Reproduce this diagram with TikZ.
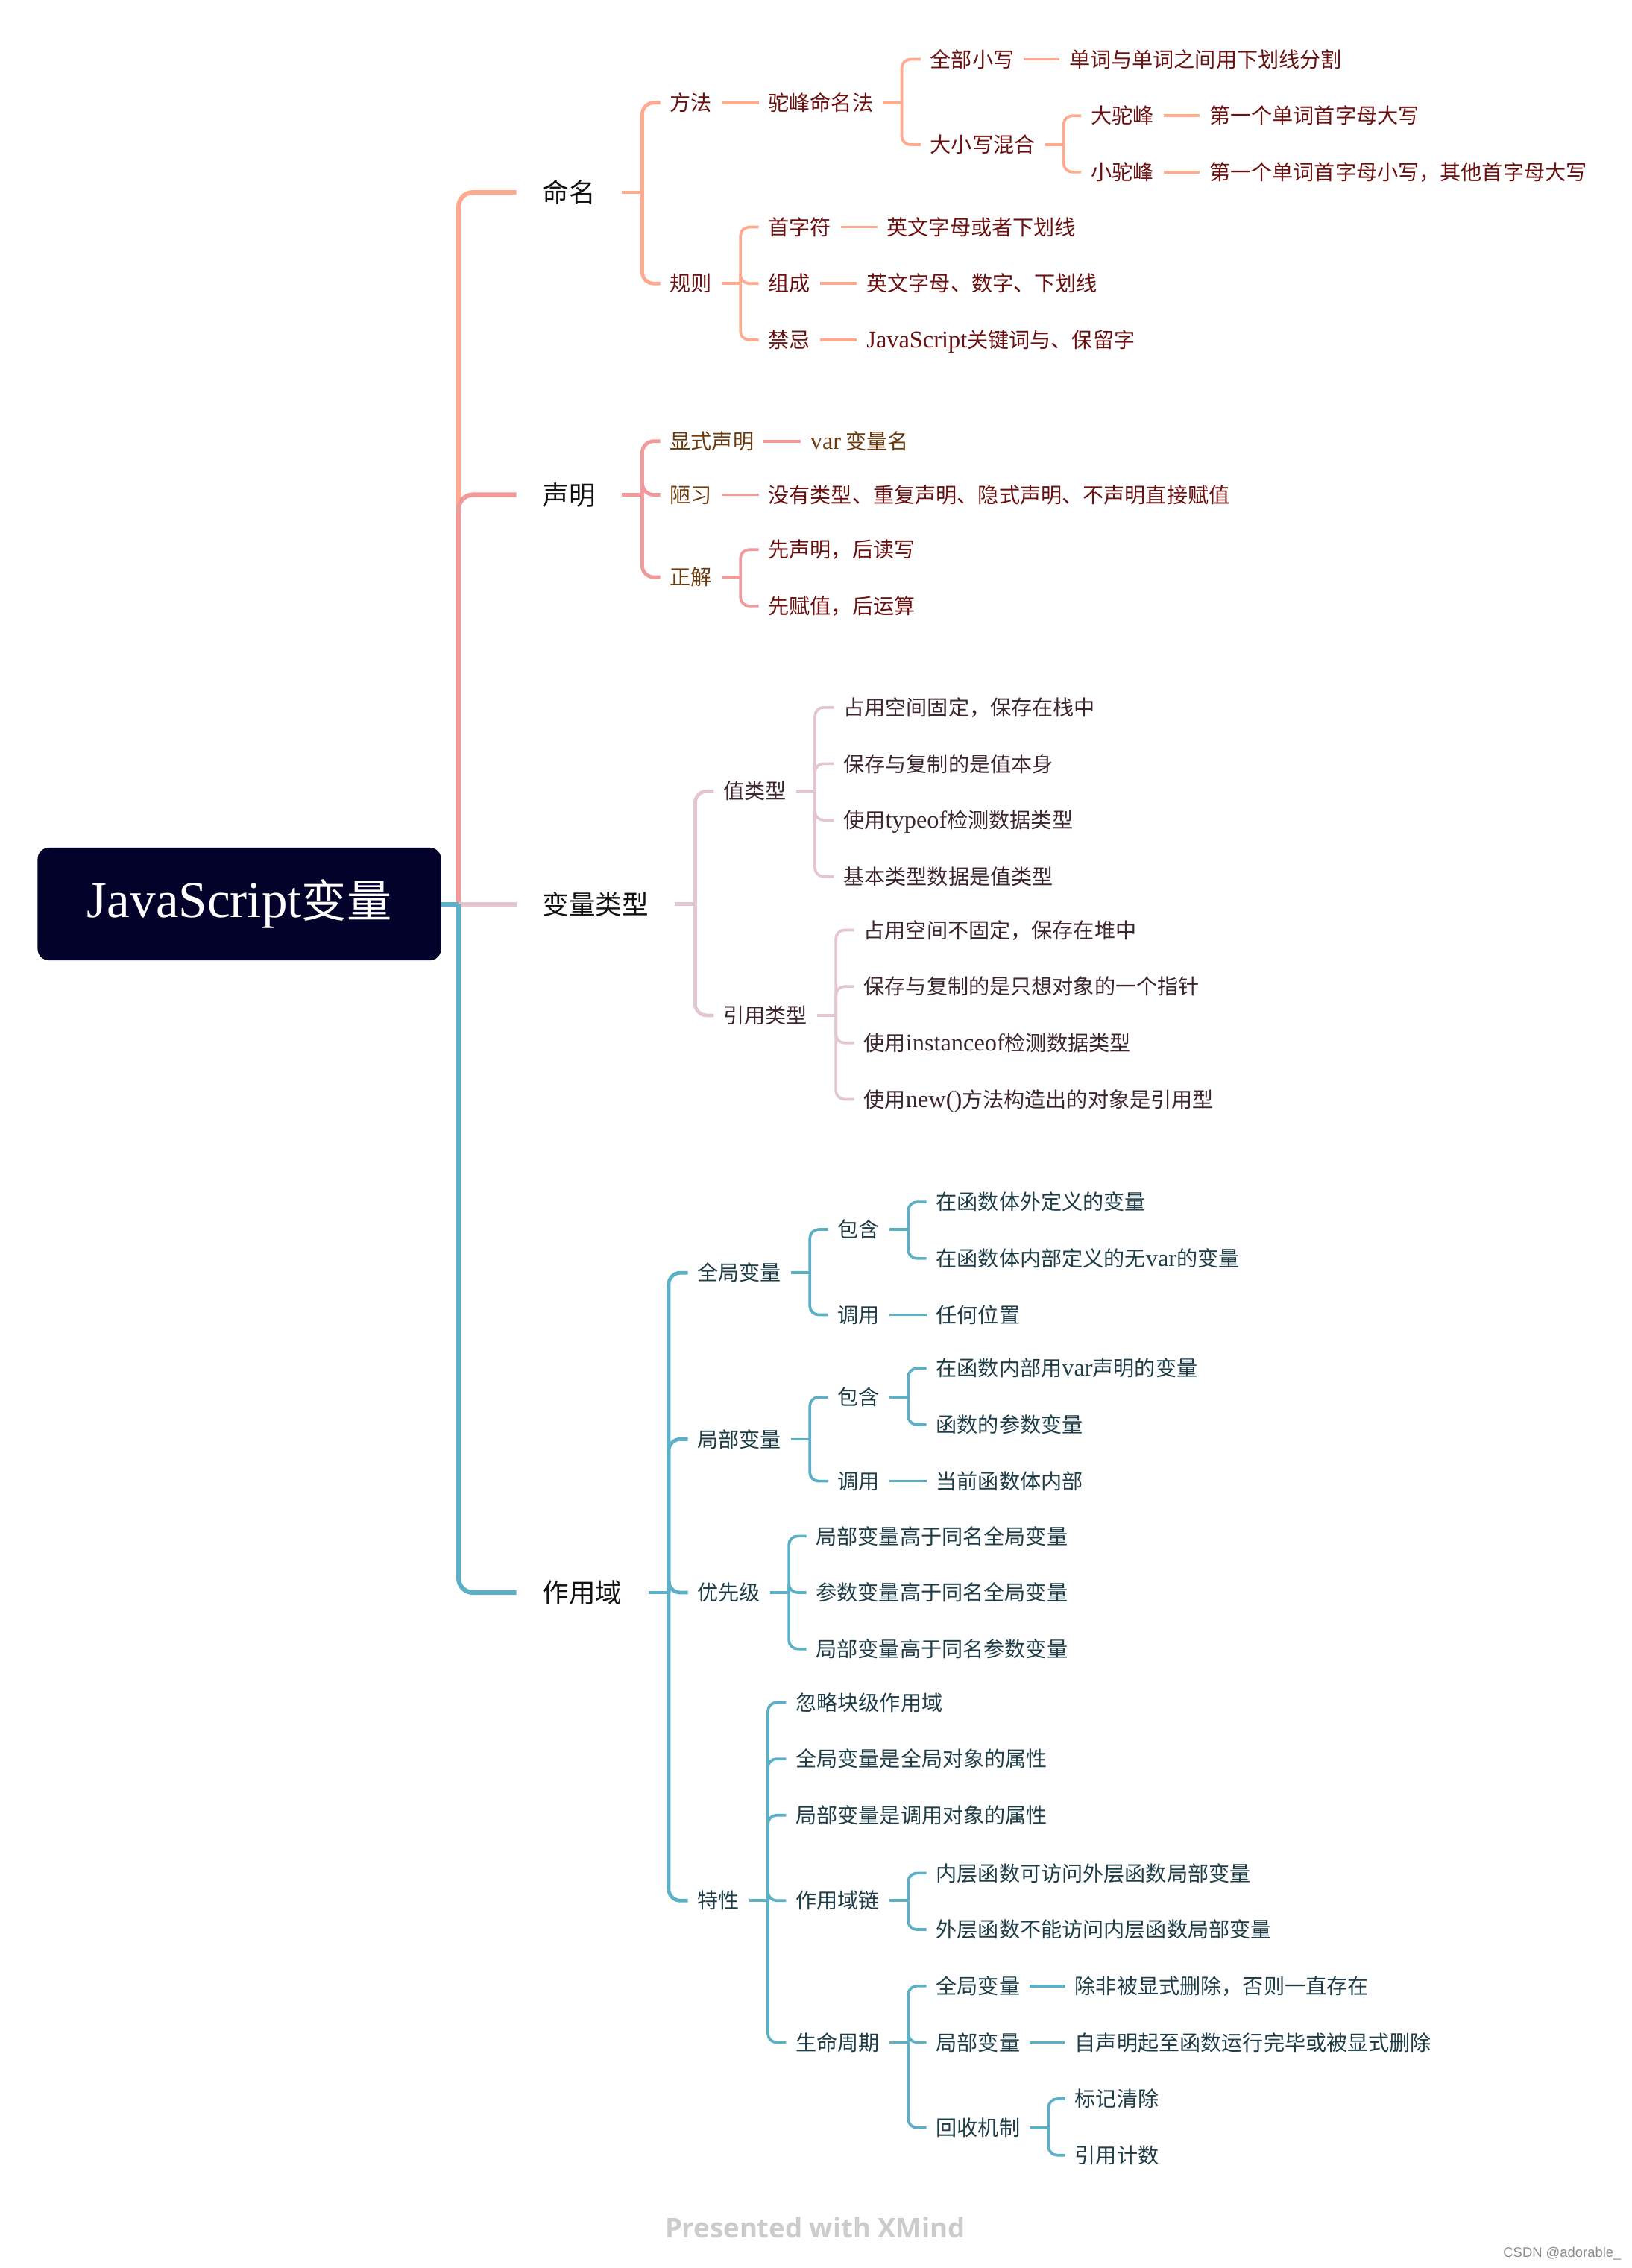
\documentclass[tikz,border=0pt]{standalone}
\usepackage{fontspec}
\setmainfont{Noto Sans CJK SC}
\newfontfamily\latf[Scale=1.15]{Liberation Serif}
\newfontfamily\footf{Open Sans}
\newfontfamily\csdnf{Liberation Sans}
\usepackage{tikz}
\definecolor{rootnavy}{HTML}{02022B}
\definecolor{peach}{HTML}{FFAA8C}
\definecolor{salmon}{HTML}{F29A9A}
\definecolor{mauve}{HTML}{E3C6CF}
\definecolor{scopeblue}{HTML}{5BAFC6}
\definecolor{namered}{HTML}{6A1010}
\definecolor{declbrown}{HTML}{6B3A0E}
\definecolor{typegray}{HTML}{3D2530}
\definecolor{scopeink}{HTML}{1E3D47}
\tikzset{
    topic/.style={anchor=west, inner xsep=18, inner ysep=0,
        text height=15.5, text depth=1.5, text=black!93,
        font=\fontsize{18.3}{22}\selectfont},
    sub/.style={anchor=west, inner xsep=6.5, inner ysep=0,
        text height=12.5, text depth=1.5,
        font=\fontsize{14.5}{17}\selectfont},
    spine/.style={line width=3.1, rounded corners=10},
    brk/.style={line width=2.5, rounded corners=8},
    link/.style={line width=1.9, rounded corners=6}
}
\begin{document}
\begin{tikzpicture}[x=1pt, y=-1pt]

    \useasboundingbox (0, 0) rectangle (1128, 1568);

    % root
    \node[fill=rootnavy, rounded corners=8, text=white, inner sep=0,
        minimum width=279, minimum height=78,
        font=\fontsize{31}{36}\selectfont]
        (root) at (165.5, 625) {{\latf JavaScript}变量};
    \coordinate (hub) at (317, 625);

    \node[topic] (mingming) at (357, 133) {命名};
    \node[topic] (shengming) at (357, 342) {声明};
    \node[topic] (leixing) at (357, 625) {变量类型};
    \node[topic] (zuoyongyu) at (357, 1101) {作用域};

    % naming
    \node[sub, text=namered] (fangfa) at (456.5, 71) {方法};
    \node[sub, text=namered] (tuofeng) at (524.5, 71) {驼峰命名法};
    \node[sub, text=namered] (quanxiao) at (636.5, 41) {全部小写};
    \node[sub, text=namered] (quanxiao-d) at (732.5, 41) {单词与单词之间用下划线分割};
    \node[sub, text=namered] (hunhe) at (636.5, 100) {大小写混合};
    \node[sub, text=namered] (datuo) at (747.5, 80) {大驼峰};
    \node[sub, text=namered] (datuo-d) at (829.5, 80) {第一个单词首字母大写};
    \node[sub, text=namered] (xiaotuo) at (747.5, 119) {小驼峰};
    \node[sub, text=namered] (xiaotuo-d) at (829.5, 119) {第一个单词首字母小写，其他首字母大写};
    \node[sub, text=namered] (guize) at (456.5, 196) {规则};
    \node[sub, text=namered] (shouzi) at (524.5, 157) {首字符};
    \node[sub, text=namered] (shouzi-d) at (606.5, 157) {英文字母或者下划线};
    \node[sub, text=namered] (zucheng) at (524.5, 196) {组成};
    \node[sub, text=namered] (zucheng-d) at (592.5, 196) {英文字母、数字、下划线};
    \node[sub, text=namered] (jinji) at (524.5, 235) {禁忌};
    \node[sub, text=namered] (jinji-d) at (592.5, 235) {{\latf JavaScript}关键词与、保留字};

    % declaring
    \node[sub, text=declbrown] (xianshi) at (456.5, 305) {显式声明};
    \node[sub, text=declbrown] (xianshi-d) at (553.5, 305) {{\latf var} 变量名};
    \node[sub, text=declbrown] (louxi) at (456.5, 342) {陋习};
    \node[sub, text=namered] (louxi-d) at (524.5, 342) {没有类型、重复声明、隐式声明、不声明直接赋值};
    \node[sub, text=declbrown] (zhengjie) at (456.5, 399) {正解};
    \node[sub, text=namered] (xiandu) at (524.5, 380) {先声明，后读写};
    \node[sub, text=namered] (xianfu) at (524.5, 419) {先赋值，后运算};

    % types
    \node[sub, text=typegray] (zhi) at (493.5, 547) {值类型};
    \node[sub, text=typegray] (zhi1) at (576.5, 489) {占用空间固定，保存在栈中};
    \node[sub, text=typegray] (zhi2) at (576.5, 528) {保存与复制的是值本身};
    \node[sub, text=typegray] (zhi3) at (576.5, 567) {使用{\latf typeof}检测数据类型};
    \node[sub, text=typegray] (zhi4) at (576.5, 606) {基本类型数据是值类型};
    \node[sub, text=typegray] (yinyong) at (493.5, 702) {引用类型};
    \node[sub, text=typegray] (yy1) at (590.5, 643) {占用空间不固定，保存在堆中};
    \node[sub, text=typegray] (yy2) at (590.5, 682) {保存与复制的是只想对象的一个指针};
    \node[sub, text=typegray] (yy3) at (590.5, 721) {使用{\latf instanceof}检测数据类型};
    \node[sub, text=typegray] (yy4) at (590.5, 760) {使用{\latf new()}方法构造出的对象是引用型};

    % scope
    \node[sub, text=scopeink] (quanju) at (475.5, 880) {全局变量};
    \node[sub, text=scopeink] (qj-bh) at (572.5, 850) {包含};
    \node[sub, text=scopeink] (qj-bh1) at (640.5, 831) {在函数体外定义的变量};
    \node[sub, text=scopeink] (qj-bh2) at (640.5, 870) {在函数体内部定义的无{\latf var}的变量};
    \node[sub, text=scopeink] (qj-dy) at (572.5, 909) {调用};
    \node[sub, text=scopeink] (qj-dy1) at (640.5, 909) {任何位置};
    \node[sub, text=scopeink] (jubu) at (475.5, 995) {局部变量};
    \node[sub, text=scopeink] (jb-bh) at (572.5, 966) {包含};
    \node[sub, text=scopeink] (jb-bh1) at (640.5, 946) {在函数内部用{\latf var}声明的变量};
    \node[sub, text=scopeink] (jb-bh2) at (640.5, 985) {函数的参数变量};
    \node[sub, text=scopeink] (jb-dy) at (572.5, 1024) {调用};
    \node[sub, text=scopeink] (jb-dy1) at (640.5, 1024) {当前函数体内部};
    \node[sub, text=scopeink] (youxian) at (475.5, 1101) {优先级};
    \node[sub, text=scopeink] (yx1) at (557.5, 1062) {局部变量高于同名全局变量};
    \node[sub, text=scopeink] (yx2) at (557.5, 1101) {参数变量高于同名全局变量};
    \node[sub, text=scopeink] (yx3) at (557.5, 1140) {局部变量高于同名参数变量};
    \node[sub, text=scopeink] (texing) at (475.5, 1314) {特性};
    \node[sub, text=scopeink] (tx1) at (543.5, 1177) {忽略块级作用域};
    \node[sub, text=scopeink] (tx2) at (543.5, 1216) {全局变量是全局对象的属性};
    \node[sub, text=scopeink] (tx3) at (543.5, 1255) {局部变量是调用对象的属性};
    \node[sub, text=scopeink] (lian) at (543.5, 1314) {作用域链};
    \node[sub, text=scopeink] (lian1) at (640.5, 1295) {内层函数可访问外层函数局部变量};
    \node[sub, text=scopeink] (lian2) at (640.5, 1334) {外层函数不能访问内层函数局部变量};
    \node[sub, text=scopeink] (zhouqi) at (543.5, 1412) {生命周期};
    \node[sub, text=scopeink] (zq1) at (640.5, 1373) {全局变量};
    \node[sub, text=scopeink] (zq1-d) at (736.5, 1373) {除非被显式删除，否则一直存在};
    \node[sub, text=scopeink] (zq2) at (640.5, 1412) {局部变量};
    \node[sub, text=scopeink] (zq2-d) at (736.5, 1412) {自声明起至函数运行完毕或被显式删除};
    \node[sub, text=scopeink] (huishou) at (640.5, 1471) {回收机制};
    \node[sub, text=scopeink] (hs1) at (736.5, 1451) {标记清除};
    \node[sub, text=scopeink] (hs2) at (736.5, 1490) {引用计数};

    % spine
    \draw[spine, peach] (hub) |- (mingming.west);
    \draw[spine, salmon] (hub) |- (shengming.west);
    \draw[spine, mauve] (hub) -- (leixing.west);
    \draw[spine, scopeblue] (hub) |- (zuoyongyu.west);
    \draw[spine, scopeblue] (root.east) -- (hub);

    % naming branch
    \draw[brk, peach] (mingming.east) -- ++(14, 0) coordinate (mingming-b);
    \foreach \c in {fangfa,guize}
        \draw[brk, peach] (mingming-b) |- (\c.west);
    \draw[link, peach] (fangfa.east) -- (tuofeng.west);
    \draw[link, peach] (tuofeng.east) -- ++(13, 0) coordinate (tuofeng-b);
    \foreach \c in {quanxiao,hunhe}
        \draw[link, peach] (tuofeng-b) |- (\c.west);
    \draw[link, peach] (hunhe.east) -- ++(13, 0) coordinate (hunhe-b);
    \foreach \c in {datuo,xiaotuo}
        \draw[link, peach] (hunhe-b) |- (\c.west);
    \draw[link, peach] (guize.east) -- ++(13, 0) coordinate (guize-b);
    \foreach \c in {shouzi,zucheng,jinji}
        \draw[link, peach] (guize-b) |- (\c.west);
    \foreach \c in {quanxiao,datuo,xiaotuo,shouzi,zucheng,jinji}
        \draw[link, peach] (\c.east) -- (\c-d.west);

    % declaring branch
    \draw[brk, salmon] (shengming.east) -- ++(14, 0) coordinate (shengming-b);
    \foreach \c in {xianshi,louxi,zhengjie}
        \draw[brk, salmon] (shengming-b) |- (\c.west);
    \foreach \c in {xianshi,louxi}
        \draw[link, salmon] (\c.east) -- (\c-d.west);
    \draw[link, salmon] (zhengjie.east) -- ++(13, 0) coordinate (zhengjie-b);
    \foreach \c in {xiandu,xianfu}
        \draw[link, salmon] (zhengjie-b) |- (\c.west);

    % types branch
    \draw[brk, mauve] (leixing.east) -- ++(14, 0) coordinate (leixing-b);
    \foreach \c in {zhi,yinyong}
        \draw[brk, mauve] (leixing-b) |- (\c.west);
    \draw[link, mauve] (zhi.east) -- ++(13, 0) coordinate (zhi-b);
    \foreach \c in {zhi1,zhi2,zhi3,zhi4}
        \draw[link, mauve] (zhi-b) |- (\c.west);
    \draw[link, mauve] (yinyong.east) -- ++(13, 0) coordinate (yinyong-b);
    \foreach \c in {yy1,yy2,yy3,yy4}
        \draw[link, mauve] (yinyong-b) |- (\c.west);

    % scope branch
    \draw[brk, scopeblue] (zuoyongyu.east) -- ++(14, 0) coordinate (zuoyongyu-b);
    \foreach \c in {quanju,jubu,youxian,texing}
        \draw[brk, scopeblue] (zuoyongyu-b) |- (\c.west);
    \draw[link, scopeblue] (quanju.east) -- ++(13, 0) coordinate (quanju-b);
    \foreach \c in {qj-bh,qj-dy}
        \draw[link, scopeblue] (quanju-b) |- (\c.west);
    \draw[link, scopeblue] (qj-bh.east) -- ++(13, 0) coordinate (qj-bh-b);
    \foreach \c in {qj-bh1,qj-bh2}
        \draw[link, scopeblue] (qj-bh-b) |- (\c.west);
    \draw[link, scopeblue] (jubu.east) -- ++(13, 0) coordinate (jubu-b);
    \foreach \c in {jb-bh,jb-dy}
        \draw[link, scopeblue] (jubu-b) |- (\c.west);
    \draw[link, scopeblue] (jb-bh.east) -- ++(13, 0) coordinate (jb-bh-b);
    \foreach \c in {jb-bh1,jb-bh2}
        \draw[link, scopeblue] (jb-bh-b) |- (\c.west);
    \foreach \c in {qj-dy,jb-dy}
        \draw[link, scopeblue] (\c.east) -- (\c1.west);
    \draw[link, scopeblue] (youxian.east) -- ++(13, 0) coordinate (youxian-b);
    \foreach \c in {yx1,yx2,yx3}
        \draw[link, scopeblue] (youxian-b) |- (\c.west);
    \draw[link, scopeblue] (texing.east) -- ++(13, 0) coordinate (texing-b);
    \foreach \c in {tx1,tx2,tx3,lian,zhouqi}
        \draw[link, scopeblue] (texing-b) |- (\c.west);
    \draw[link, scopeblue] (lian.east) -- ++(13, 0) coordinate (lian-b);
    \foreach \c in {lian1,lian2}
        \draw[link, scopeblue] (lian-b) |- (\c.west);
    \draw[link, scopeblue] (zhouqi.east) -- ++(13, 0) coordinate (zhouqi-b);
    \foreach \c in {zq1,zq2,huishou}
        \draw[link, scopeblue] (zhouqi-b) |- (\c.west);
    \foreach \c in {zq1,zq2}
        \draw[link, scopeblue] (\c.east) -- (\c-d.west);
    \draw[link, scopeblue] (huishou.east) -- ++(13, 0) coordinate (huishou-b);
    \foreach \c in {hs1,hs2}
        \draw[link, scopeblue] (huishou-b) |- (\c.west);

    % footer
    \node[text=black!20, font=\footf\bfseries\fontsize{18.8}{22}\selectfont]
        (xmind) at (563.5, 1540) {Presented with XMind};
    \node[anchor=east, text=black!45, inner sep=0,
        font=\csdnf\fontsize{9.5}{11}\selectfont]
        (csdn) at (1121, 1558) {CSDN @adorable\_};

\end{tikzpicture}
\end{document}
